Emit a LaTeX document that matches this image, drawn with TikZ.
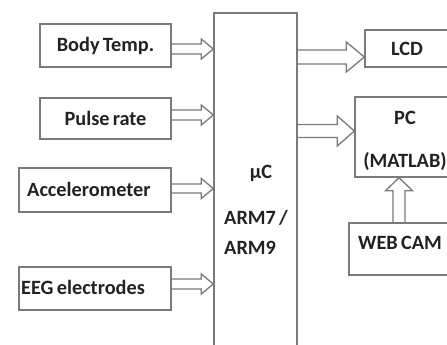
\documentclass[tikz,border=0pt]{standalone}
\usepackage{fontspec}
\setmainfont[WordSpace=0.7]{Carlito}
\usetikzlibrary{calc}

\definecolor{linec}{HTML}{7A7A7A}
\definecolor{txtc}{HTML}{222222}

\tikzset{
  blk/.style={draw=linec, line width=1.4pt, inner sep=0pt, font=\bfseries\fontsize{20.3}{23}\selectfont, text=txtc},
  lbl/.style={inner sep=0pt, font=\bfseries\fontsize{20.3}{23}\selectfont, text=txtc},
  hollow/.style={draw=linec, line width=1.3pt, line join=miter}
}

% hollow block arrow: start, end, shaft half-width, head half-width, head length
\newcommand\blockarrow[5]{%
  \coordinate (hb) at ($(#2)!#5!(#1)$);
  \draw[hollow] ($(#1)!#3!90:(#2)$) -- ($(hb)!#3!90:(#2)$) -- ($(hb)!#4!90:(#2)$)
    -- (#2) -- ($(hb)!#4!-90:(#2)$) -- ($(hb)!#3!-90:(#2)$) -- ($(#1)!#3!-90:(#2)$);
}

\begin{document}
\begin{tikzpicture}[x=1pt, y=-1pt]
  \useasboundingbox (0,0) rectangle (447,345);
  \clip (0,0) rectangle (447,345);

  % sensor blocks
  \node[blk, minimum width=131pt, minimum height=43pt] (body) at (105.5,45.5) {Body Temp.};
  \node[blk, minimum width=131pt, minimum height=41pt] (pulse) at (105.5,118.5) {Pulse rate};
  \node[blk, minimum width=152pt, minimum height=44pt] (accel) at (95,190) {};
  \node[lbl, anchor=west] (accelt) at (27,189) {Accelerometer};
  \node[blk, minimum width=152pt, minimum height=43pt] (eeg) at (95,288.5) {};
  \node[lbl, anchor=west] (eegt) at (21,287) {EEG electrodes};

  % microcontroller
  \node[blk, minimum width=83pt, minimum height=350pt] (mc) at (255.5,188) {};
  \node[lbl] (muc) at (261,173) {µC};
  \node[lbl, anchor=west] (arm7) at (224,218) {ARM7 /};
  \node[lbl, anchor=west] (arm9) at (224,248) {ARM9};

  % outputs
  \node[blk, minimum width=84pt, minimum height=37pt] (lcd) at (407,48.5) {LCD};
  \node[blk, minimum width=100pt, minimum height=80pt] (pc) at (405,137) {};
  \node[lbl] (pct) at (405,118) {PC};
  \node[lbl] (matlab) at (405,162) {(MATLAB)};
  \node[blk, minimum width=102pt, minimum height=52pt] (cam) at (400,249) {};
  \node[lbl] (camt) at (400,243) {WEB CAM};

  % arrow end points
  \coordinate (s1) at ($(body.east)+(0,3.5)$);   \coordinate (e1) at (mc.west |- s1);
  \coordinate (s2) at ($(pulse.east)+(0,-3.5)$); \coordinate (e2) at (mc.west |- s2);
  \coordinate (s3) at ($(accel.east)+(0,-1.5)$); \coordinate (e3) at (mc.west |- s3);
  \coordinate (s4) at ($(eeg.east)+(0,-4.5)$);   \coordinate (e4) at (mc.west |- s4);
  \coordinate (s5) at (mc.east |- 0,57);         \coordinate (e5) at (lcd.west |- s5);
  \coordinate (s6) at (mc.east |- 0,131);        \coordinate (e6) at (pc.west |- s6);
  \coordinate (s7) at (cam.north -| 399,0);      \coordinate (e7) at (pc.south -| s7);

  \blockarrow{s1}{e1}{5pt}{10pt}{12pt}
  \blockarrow{s2}{e2}{5pt}{10pt}{12pt}
  \blockarrow{s3}{e3}{4.5pt}{10pt}{12pt}
  \blockarrow{s4}{e4}{5pt}{10pt}{12pt}
  \blockarrow{s5}{e5}{7pt}{15pt}{18pt}
  \blockarrow{s6}{e6}{6.5pt}{15pt}{17pt}
  \blockarrow{s7}{e7}{6pt}{13.5pt}{13pt}
\end{tikzpicture}
\end{document}
